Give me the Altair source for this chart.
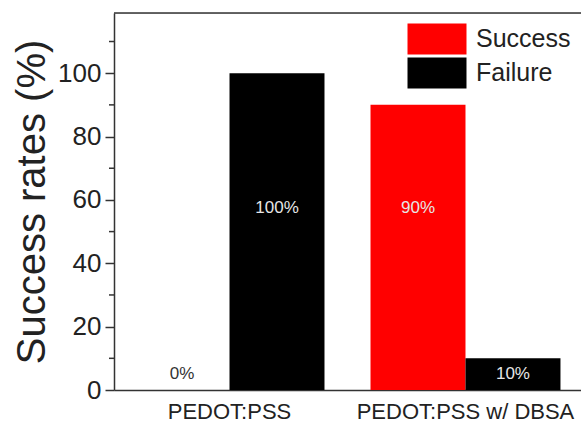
import altair as alt
import pandas as pd

groups = ["PEDOT:PSS", "PEDOT:PSS", "PEDOT:PSS w/ DBSA", "PEDOT:PSS w/ DBSA"]
statuses = ["Success", "Failure", "Success", "Failure"]
values = [0, 100, 90, 10]
labels = ["0%", "100%", "90%", "10%"]
minor_ticks = [10, 30, 50, 70, 90, 110]
major_ticks = [0, 20, 40, 60, 80, 100]

df = pd.DataFrame({"group": groups, "status": statuses, "value": values, "label": labels})
df["label_y"] = df["value"].apply(lambda v: 57.5 if v > 50 else 5)
minor_df = pd.DataFrame({"tick": minor_ticks})

FONT = "Liberation Sans"
AX = "#333333"

yscale = alt.Scale(domain=[0, 119], nice=False, zero=True)
xscale = alt.Scale(paddingInner=0.195, paddingOuter=0.087)
xoff = alt.XOffset("status:N", sort=["Success", "Failure"], scale=alt.Scale(paddingInner=0, paddingOuter=0))

bars = alt.Chart(df).mark_bar().encode(
    x=alt.X("group:N", scale=xscale, sort=["PEDOT:PSS", "PEDOT:PSS w/ DBSA"],
            axis=alt.Axis(title=None, labelAngle=0, ticks=False, labelFontSize=22, labelFont=FONT,
                          labelColor="#222222", labelPadding=11, labelLimit=0,
                          domainColor=AX, domainWidth=1.5)),
    xOffset=xoff,
    y=alt.Y("value:Q", scale=yscale,
            axis=alt.Axis(title="Success rates (%)", values=major_ticks, grid=False, tickSize=9,
                          tickColor=AX, tickWidth=1.5, domainColor=AX, domainWidth=1.5,
                          labelFontSize=26, labelFont=FONT, labelColor="#222222", labelPadding=4,
                          titleFontSize=40, titleFont=FONT, titleFontWeight="normal",
                          titleColor="#222222", titlePadding=5)),
    color=alt.Color("status:N", sort=["Success", "Failure"],
                    scale=alt.Scale(domain=["Success", "Failure"], range=["#ff0000", "#000000"]),
                    legend=alt.Legend(title=None, orient="none", legendX=308, legendY=11,
                                      symbolType="M-2,-1.05H2V1.05H-2Z", symbolSize=870,
                                      symbolStrokeWidth=0, labelFontSize=25, labelFont=FONT,
                                      labelColor="#222222", labelOffset=24, rowPadding=2)),
)

text = alt.Chart(df).mark_text(fontSize=17, font=FONT, baseline="middle").encode(
    x=alt.X("group:N", scale=xscale, sort=["PEDOT:PSS", "PEDOT:PSS w/ DBSA"]),
    xOffset=xoff,
    y=alt.Y("label_y:Q", scale=yscale),
    text="label:N",
    color=alt.condition(alt.datum.value == 0, alt.value("#333333"), alt.value("#e6e6e6")),
)

minor = alt.Chart(minor_df).mark_rule(color=AX, strokeWidth=1.5).encode(
    y=alt.Y("tick:Q", scale=yscale),
    x=alt.value(-5),
    x2=alt.value(0),
)

top = alt.Chart(minor_df.head(1)).mark_rule(color=AX, strokeWidth=1.5).encode(
    x=alt.value(0), x2=alt.value(467), y=alt.value(0)
)

chart = alt.layer(bars, text, minor, top).properties(
    width=467, height=377,
    autosize=alt.AutoSizeParams(type="none"),
    padding={"left": 114, "top": 13, "right": 0, "bottom": 34},
).configure_view(stroke=None).configure(background="white")

chart.save("out.html", embed_options={"renderer": "svg", "actions": False})
